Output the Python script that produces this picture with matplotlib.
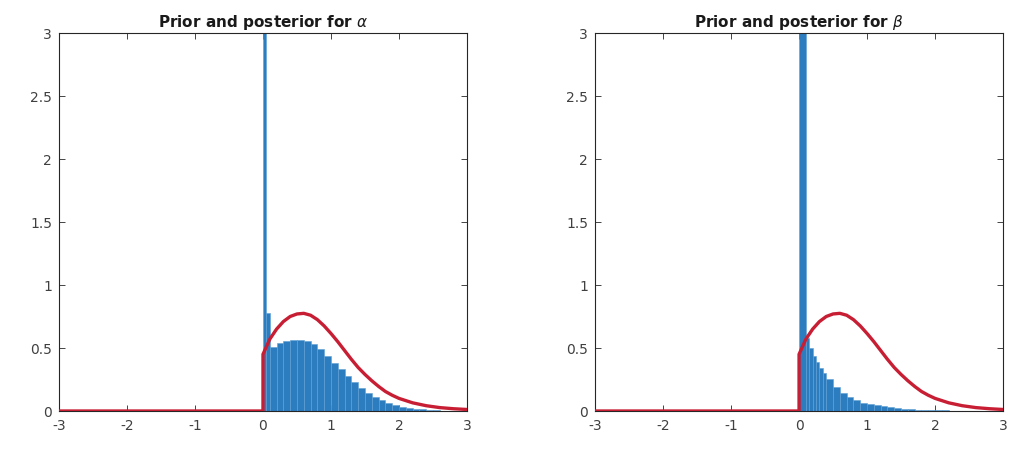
import numpy as np
import matplotlib
matplotlib.use("Agg")
import matplotlib.pyplot as plt

# ---- data ----
# posterior histogram for alpha (bin edges and pdf heights)
alpha_edges = [0.0, 0.05, 0.1, 0.2, 0.3, 0.4, 0.5, 0.6, 0.7, 0.8, 0.9, 1.0,
               1.1, 1.2, 1.3, 1.4, 1.5, 1.6, 1.7, 1.8, 1.9, 2.0, 2.1, 2.2,
               2.3, 2.4, 2.5, 2.6, 2.7, 2.8, 2.9, 3.0]
alpha_heights = [4.0, 0.78, 0.51, 0.54, 0.555, 0.565, 0.565, 0.555, 0.53,
                 0.49, 0.44, 0.38, 0.33, 0.28, 0.23, 0.185, 0.145, 0.11,
                 0.085, 0.065, 0.048, 0.035, 0.025, 0.017, 0.012, 0.008,
                 0.005, 0.003, 0.002, 0.001, 0.001]

# posterior histogram for beta
beta_edges = [0.0, 0.1, 0.15, 0.2, 0.25, 0.3, 0.35, 0.4, 0.5, 0.6, 0.7, 0.8,
              0.9, 1.0, 1.1, 1.2, 1.3, 1.4, 1.5, 1.6, 1.7, 1.8, 1.9, 2.0,
              2.1, 2.2, 2.3, 2.4, 2.5, 2.6, 2.7, 2.8, 2.9, 3.0]
beta_heights = [4.0, 0.58, 0.50, 0.44, 0.39, 0.34, 0.30, 0.25, 0.19, 0.145,
                0.11, 0.085, 0.067, 0.055, 0.045, 0.036, 0.028, 0.022,
                0.017, 0.013, 0.010, 0.008, 0.006, 0.005, 0.004, 0.003,
                0.002, 0.002, 0.001, 0.001, 0.001, 0.0, 0.0]

# prior density curve (same for both parameters)
prior_x = [-3.0, 0.0, 0.0, 0.1, 0.2, 0.3, 0.4, 0.5, 0.6, 0.7, 0.8, 0.9,
           1.0, 1.1, 1.2, 1.3, 1.4, 1.5, 1.6, 1.7, 1.8, 1.9, 2.0, 2.2,
           2.4, 2.6, 2.8, 3.0]
prior_y = [0.0, 0.0, 0.45, 0.57, 0.65, 0.71, 0.75, 0.77, 0.775, 0.76,
           0.725, 0.675, 0.615, 0.55, 0.48, 0.41, 0.345, 0.29, 0.24,
           0.195, 0.155, 0.125, 0.10, 0.065, 0.042, 0.027, 0.018, 0.012]

titles = [r"Prior and posterior for $\alpha$", r"Prior and posterior for $\beta$"]
x_ticks = [-3, -2, -1, 0, 1, 2, 3]
y_ticks = [0, 0.5, 1, 1.5, 2, 2.5, 3]
y_ticklabels = ["0", "0.5", "1", "1.5", "2", "2.5", "3"]

# ---- figure ----
fig = plt.figure(figsize=(10.13, 4.56), dpi=100)
axes_pos = [[0.0582, 0.0965, 0.4028, 0.829],
            [0.5874, 0.0965, 0.4028, 0.829]]
hist_data = [(alpha_edges, alpha_heights), (beta_edges, beta_heights)]

blue = "#2c7cc0"
red = "#c81e34"
axcol = "#262626"

for pos, (edges, heights), title in zip(axes_pos, hist_data, titles):
    ax = fig.add_axes(pos)
    edges = np.asarray(edges)
    widths = np.diff(edges)
    ax.bar(edges[:-1], heights, width=widths, align="edge", color=blue,
           edgecolor="#5f9fd4", linewidth=0.4, zorder=2)
    ax.plot(prior_x, prior_y, color=red, linewidth=2.4, zorder=3,
            solid_joinstyle="round")
    ax.set_xlim(-3, 3)
    ax.set_ylim(0, 3)
    ax.set_xticks(x_ticks)
    ax.set_xticklabels([str(t) for t in x_ticks])
    ax.set_yticks(y_ticks)
    ax.set_yticklabels(y_ticklabels)
    ax.tick_params(direction="in", length=4, width=0.6, colors=axcol,
                   labelcolor="#404040", labelsize=10, top=True, right=True,
                   pad=5)
    for sp in ax.spines.values():
        sp.set_color(axcol)
        sp.set_linewidth(0.8)
    ax.set_title(title, fontsize=11, fontweight="bold", color="#1a1a1a",
                 pad=5)

fig.savefig("out.png", dpi=100)
